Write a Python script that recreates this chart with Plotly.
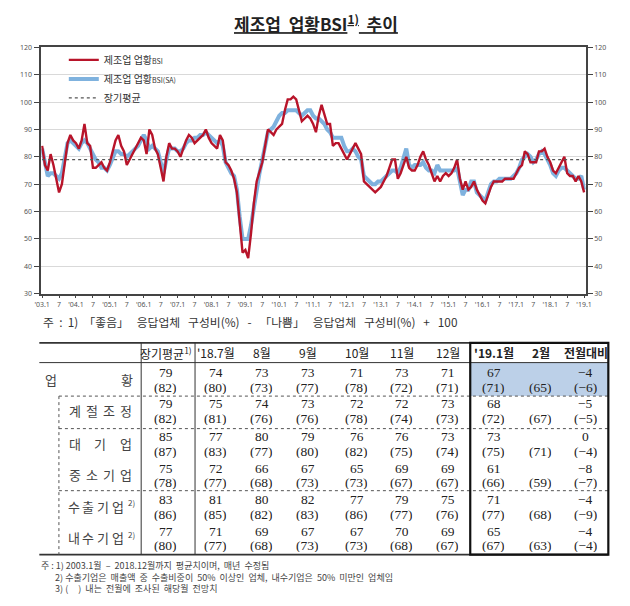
import plotly.graph_objects as go

# ---------------- data ----------------
# Manufacturing business-condition BSI, monthly 2003.1 .. 2019.1
BSI = [
    84, 77, 75, 81, 77, 72, 67, 70, 78, 85, 88, 86,        # 2003
    85, 83, 86, 92, 85, 84, 76, 76, 77, 78, 76, 75,        # 2004
    78, 82, 86, 88, 84, 82, 77, 79, 81, 83, 85, 87,        # 2005
    86, 81, 90, 88, 83, 81, 76, 71, 80, 85, 83, 83,        # 2006
    82, 80, 83, 86, 88, 87, 85, 86, 87, 88, 90, 87,        # 2007
    85, 84, 83, 88, 86, 78, 77, 75, 72, 67, 57, 45,        # 2008
    46, 43, 52, 63, 71, 75, 78, 84, 90, 89, 88, 90,        # 2009
    91, 92, 97, 101, 101, 102, 101, 97, 93, 94, 95, 94,    # 2010
    92, 89, 95, 99, 95, 92, 92, 84, 85, 85, 83, 81,        # 2011
    79, 81, 83, 85, 83, 81, 71, 70, 69, 68, 67, 68,        # 2012
    69, 71, 73, 76, 79, 79, 72, 74, 77, 80, 76, 75,        # 2013
    75, 77, 80, 82, 79, 77, 74, 71, 73, 71, 73, 74,        # 2014
    73, 74, 76, 79, 72, 68, 71, 68, 69, 71, 68, 66,        # 2015
    64, 63, 66, 69, 71, 71, 71, 71, 72, 72, 72, 72,        # 2016
    74, 76, 77, 82, 81, 78, 78, 78, 82, 82, 83, 80,        # 2017
    78, 75, 74, 76, 78, 80, 74, 73, 73, 71, 73, 71,        # 2018
    67,                                                    # 2019.1
]
BSI_SA = [
    83, 77, 73, 74, 74, 73, 72, 74, 80, 85, 86, 85,        # 2003
    84, 83, 85, 86, 85, 83, 81, 79, 78, 76, 76, 75,        # 2004
    77, 80, 82, 82, 81, 81, 80, 81, 82, 83, 84, 86,        # 2005
    88, 86, 83, 84, 83, 82, 78, 74, 79, 83, 83, 83,        # 2006
    82, 82, 83, 85, 86, 86, 87, 87, 88, 88, 89, 88,        # 2007
    87, 86, 85, 86, 84, 78, 76, 74, 73, 68, 58, 50,        # 2008
    50, 50, 55, 62, 69, 74, 79, 84, 89, 90, 91, 93,        # 2009
    95, 96, 96, 97, 97, 97, 97, 96, 95, 96, 97, 97,        # 2010
    95, 94, 94, 93, 92, 90, 89, 87, 87, 87, 87, 84,        # 2011
    82, 82, 83, 82, 80, 79, 73, 72, 71, 70, 70, 71,        # 2012
    71, 72, 73, 74, 75, 75, 74, 76, 80, 83, 77, 76,        # 2013
    77, 77, 77, 78, 76, 75, 75, 74, 77, 75, 75, 75,        # 2014
    75, 75, 75, 76, 71, 66, 68, 68, 71, 71, 67, 66,        # 2015
    65, 64, 67, 70, 71, 71, 72, 72, 72, 72, 72, 73,        # 2016
    74, 76, 79, 80, 81, 80, 78, 79, 81, 82, 81, 79,        # 2017
    77, 74, 73, 75, 76, 76, 75, 74, 73, 72, 72, 73,        # 2018
    68,                                                    # 2019.1
]
LONG_AVG = 79

Y_TICKS = [30, 40, 50, 60, 70, 80, 90, 100, 110, 120]
X_TICK_POS = [0, 6, 12, 18, 24, 30, 36, 42, 48, 54, 60, 66, 72, 78, 84, 90, 96,
              102, 108, 114, 120, 126, 132, 138, 144, 150, 156, 162, 168, 174,
              180, 186, 192]
X_TICK_LABELS = ["'03.1", "7", "'04.1", "7", "'05.1", "7", "'06.1", "7", "'07.1", "7",
                 "'08.1", "7", "'09.1", "7", "'10.1", "7", "'11.1", "7", "'12.1", "7",
                 "'13.1", "7", "'14.1", "7", "'15.1", "7", "'16.1", "7", "'17.1", "7",
                 "'18.1", "7", "'19.1"]

TABLE_COLS = ["장기평균<sup>1)</sup>", "'18.7월", "8월", "9월", "10월", "11월", "12월",
              "<b>'19.1월</b>", "<b>2월</b>", "<b>전월대비</b>"]
ROW_NAMES = ["업황", "계절조정", "대기업", "중소기업", "수출기업", "내수기업"]
ROW_SUPS = ["", "", "", "", "2)", "2)"]
ACTUAL = [
    [79, 74, 73, 73, 71, 73, 71, 67, None, -4],
    [79, 75, 74, 73, 72, 72, 73, 68, None, -5],
    [85, 77, 80, 79, 76, 76, 73, 73, None, 0],
    [75, 72, 66, 67, 65, 69, 69, 61, None, -8],
    [83, 81, 80, 82, 77, 79, 75, 71, None, -4],
    [77, 71, 69, 67, 67, 70, 69, 65, None, -4],
]
FORECAST = [
    [82, 80, 73, 77, 78, 72, 71, 71, 65, -6],
    [82, 81, 76, 76, 78, 74, 73, 72, 67, -5],
    [87, 83, 77, 80, 82, 75, 74, 75, 71, -4],
    [78, 77, 68, 73, 73, 67, 67, 66, 59, -7],
    [86, 85, 82, 83, 86, 77, 76, 77, 68, -9],
    [80, 77, 68, 73, 73, 68, 67, 67, 63, -4],
]

# ---------------- layout helpers ----------------
W, H = 630, 606
def X(px):
    return px / W
def Y(py):
    return 1 - py / H

months = list(range(len(BSI)))

KR = "Noto Sans CJK KR"
NUM = "Liberation Serif, Noto Sans CJK KR"

fig = go.Figure()
fig.add_trace(go.Scatter(
    x=months, y=BSI_SA, mode="lines", name="제조업 업황<span style='font-size:7px'>BSI(SA)</span>",
    line=dict(color="#7FB2DE", width=4), legendrank=2))
fig.add_trace(go.Scatter(
    x=months, y=BSI, mode="lines", name="제조업 업황<span style='font-size:7px'>BSI</span>",
    line=dict(color="#B8142A", width=2.4), legendrank=1))
fig.add_trace(go.Scatter(
    x=months, y=[LONG_AVG] * len(months), mode="lines", name="장기평균",
    line=dict(color="#555555", width=1.2, dash="dot"), legendrank=3, yaxis="y2"))

axis_font = dict(family="Noto Sans", size=7, color="#555555")
fig.update_layout(
    width=W, height=H, autosize=False,
    margin=dict(l=0, r=0, t=0, b=0),
    paper_bgcolor="white", plot_bgcolor="white",
    showlegend=True,
    legend=dict(x=X(58), y=Y(41), xanchor="left", yanchor="top",
                font=dict(family=KR, size=10, color="#333333"),
                bgcolor="rgba(0,0,0,0)", tracegroupgap=1, itemwidth=30),
    xaxis=dict(domain=[X(35), X(591)], range=[-0.3, 192.6],
               tickvals=X_TICK_POS, ticktext=X_TICK_LABELS, tickangle=0,
               tickfont=axis_font, ticks="outside", ticklen=3, tickcolor="#444",
               showgrid=False, zeroline=False,
               showline=True, linecolor="#444444", linewidth=1.5, mirror=True),
    yaxis=dict(domain=[Y(293), Y(43)], range=[30, 120], tickvals=Y_TICKS,
               tickfont=axis_font, ticks="outside", ticklen=6, tickcolor="#444",
               showgrid=True, gridcolor="#D9D9D9", gridwidth=1, zeroline=False,
               showline=True, linecolor="#444444", linewidth=1.5, mirror=True),
    yaxis2=dict(overlaying="y", side="right", range=[30, 120], tickvals=Y_TICKS,
                tickfont=axis_font, ticks="outside", ticklen=6, tickcolor="#444",
                showgrid=False, zeroline=False, showline=False),
)

annotations = []
shapes = []

# title
annotations.append(dict(
    x=X(315), y=Y(18), xref="paper", yref="paper", showarrow=False,
    text="<u><b>제조업  업황BSI<sup>1)</sup>  추이</b></u>",
    font=dict(family=KR, size=17, color="#222222"), xanchor="center", yanchor="middle"))

# chart note
annotations.append(dict(
    x=X(35), y=Y(321), xref="paper", yref="paper", showarrow=False,
    text="주  :  1)  「좋음」   응답업체   구성비(%)   -   「나쁨」   응답업체   구성비(%)   +   100",
    font=dict(family=KR, size=11.8, color="#333333"), xanchor="left", yanchor="middle"))

# ---------------- table ----------------
COL_X = [162, 213, 260, 307, 357, 403, 450, 497, 545, 591]
HEADER_Y = 353
ROW_MID = [380, 412, 445, 477, 509, 541]
LINE_GAP = 7.5

# highlight fill
shapes.append(dict(type="rect", xref="paper", yref="paper",
                   x0=X(473), x1=X(614), y0=Y(397), y1=Y(363),
                   fillcolor="#BCD0E8", line=dict(width=0), layer="below"))

def hline(py, x0, x1, width=1.0, dash="solid", color="#333333"):
    shapes.append(dict(type="line", xref="paper", yref="paper",
                       x0=X(x0), x1=X(x1), y0=Y(py), y1=Y(py),
                       line=dict(color=color, width=width, dash=dash)))

def vline(px, y0, y1, width=1.0, dash="solid", color="#333333"):
    shapes.append(dict(type="line", xref="paper", yref="paper",
                       x0=X(px), x1=X(px), y0=Y(y0), y1=Y(y1),
                       line=dict(color=color, width=width, dash=dash)))

hline(343, 33, 473, 1.6)
hline(363, 33, 614, 1.0)
hline(397, 53, 614, 1.0, "dot", "#555555")
hline(430, 53, 614, 1.0, "dot", "#555555")
hline(493, 53, 614, 1.0, "dot", "#555555")
hline(558, 33, 614, 1.8)
vline(137, 343, 558, 1.0)
vline(192, 343, 558, 1.0)
vline(53, 397, 558, 1.0, "dot", "#555555")
# bold box
shapes.append(dict(type="rect", xref="paper", yref="paper",
                   x0=X(473), x1=X(614), y0=Y(558), y1=Y(343),
                   line=dict(color="#111111", width=2.2)))

# headers
for cx, txt in zip(COL_X, TABLE_COLS):
    annotations.append(dict(
        x=X(cx), y=Y(HEADER_Y), xref="paper", yref="paper", showarrow=False,
        text=txt, font=dict(family=KR, size=12, color="#222222"),
        xanchor="center", yanchor="middle"))

def fmt(v):
    if v is None:
        return None
    if v < 0:
        return "\u2212" + str(-v)
    return str(v)

for r, mid in enumerate(ROW_MID):
    for c, cx in enumerate(COL_X):
        a = fmt(ACTUAL[r][c])
        f = fmt(FORECAST[r][c])
        if a is not None:
            annotations.append(dict(
                x=X(cx), y=Y(mid - LINE_GAP), xref="paper", yref="paper", showarrow=False,
                text=a, font=dict(family=NUM, size=13.5, color="#222222"),
                xanchor="center", yanchor="middle", height=14))
        if f is not None:
            annotations.append(dict(
                x=X(cx), y=Y(mid + LINE_GAP), xref="paper", yref="paper", showarrow=False,
                text="(" + f + ")", font=dict(family=NUM, size=13.5, color="#222222"),
                xanchor="center", yanchor="middle", height=14))

# row labels (characters spread across the label cell)
LABEL_SPAN = [(45, 123), (69, 121), (69, 121), (69, 121), (68, 113), (68, 113)]
for r, name in enumerate(ROW_NAMES):
    chars = list(name)
    x0, x1 = LABEL_SPAN[r]
    n = len(chars)
    for i, ch in enumerate(chars):
        cx = x0 + (x1 - x0) * i / (n - 1)
        annotations.append(dict(
            x=X(cx), y=Y(ROW_MID[r]), xref="paper", yref="paper", showarrow=False,
            text=ch, font=dict(family=KR, size=13, color="#444444"),
            xanchor="center", yanchor="middle"))
    if ROW_SUPS[r]:
        annotations.append(dict(
            x=X(121), y=Y(ROW_MID[r] - 4), xref="paper", yref="paper", showarrow=False,
            text=ROW_SUPS[r], font=dict(family=KR, size=8, color="#444444"),
            xanchor="left", yanchor="middle"))

# bottom notes
NOTES = [
    "주 : 1) 2003.1월  –  2018.12월까지  평균치이며,  매년  수정됨",
    "       2) 수출기업은  매출액  중  수출비중이  50%  이상인  업체,  내수기업은  50%  미만인  업체임",
    "       3) (     )  내는  전월에  조사된  해당월  전망치",
]
annotations.append(dict(
    x=X(33), y=Y(560), xref="paper", yref="paper", showarrow=False,
    text="<br>".join(NOTES), align="left",
    font=dict(family=KR, size=9, color="#444444"),
    xanchor="left", yanchor="top"))

fig.update_layout(annotations=annotations, shapes=shapes)
fig.write_html("out.html")
